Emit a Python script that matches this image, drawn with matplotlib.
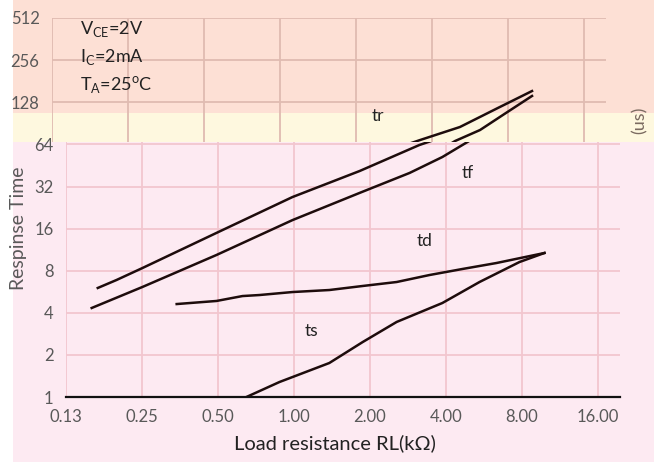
import numpy as np
import matplotlib
matplotlib.use("Agg")
import matplotlib.pyplot as plt
from matplotlib.patches import Rectangle

plt.rcParams['font.family'] = ['Lato', 'DejaVu Sans']
plt.rcParams['mathtext.fontset'] = 'custom'
plt.rcParams['mathtext.rm'] = 'Lato'

# curves (RL in kOhm, time in us)
tr_x = [0.167, 0.198, 0.251, 0.493, 0.986, 1.82, 3.14, 3.59, 5.16, 7.30, 9.96]
tr_y = [6.02, 6.86, 8.36, 14.9, 26.9, 41.3, 63.4, 68.8, 85.2, 116.6, 154]
tf_x = [0.158, 0.251, 0.493, 0.986, 1.82, 2.87, 3.87, 4.94, 6.20, 7.64, 9.96]
tf_y = [4.33, 6.12, 10.36, 18.4, 28.8, 40.0, 52.0, 67.7, 81.1, 103.9, 142]
td_x = [0.343, 0.493, 0.625, 0.730, 0.986, 1.38, 1.87, 2.55, 3.44, 4.65, 6.34, 9.82]
td_y = [4.62, 4.86, 5.27, 5.36, 5.63, 5.82, 6.22, 6.64, 7.45, 8.23, 9.08, 10.71]
ts_x = [0.648, 0.876, 1.38, 1.87, 2.55, 3.87, 5.43, 7.82, 9.82]
ts_y = [1.0, 1.28, 1.75, 2.47, 3.44, 4.70, 6.64, 9.23, 10.71]

xticks = [0.125, 0.25, 0.5, 1, 2, 4, 8, 16]
xticklabels = ['0.13', '0.25', '0.50', '1.00', '2.00', '4.00', '8.00', '16.00']
yticks_low = [1, 2, 4, 8, 16, 32, 64]
yticks_high = [128, 256, 512]

W, H = 654, 462
fig = plt.figure(figsize=(W/100, H/100), dpi=100)
fig.patch.set_facecolor('#fdeaf2')

def box(x0, y0, x1, y1):
    return [x0/W, 1 - y1/H, (x1 - x0)/W, (y1 - y0)/H]

# background bands (the picture is a patched-together scan)
for (x0, y0, x1, y1, c) in [(0, 0, 13, H, 'white'),
                            (13, 0, W, 113, '#fde0d5'),
                            (13, 113, W, 142, '#fef8df')]:
    b = box(x0, y0, x1, y1)
    fig.patches.append(Rectangle((b[0], b[1]), b[2], b[3], transform=fig.transFigure,
                                 facecolor=c, edgecolor='none', zorder=-5))

xmax = 0.125 * 2 ** (554 / 76)
ysplit = 2 ** (255 / 42.1)

# lower part and the upper strip, which sits a little to the left in the scan
ax = fig.add_axes(box(66, 142, 620, 397))
ax2 = fig.add_axes(box(52, 18, 606, 142))

for a, lim, yt, gc in [(ax, (1, ysplit), yticks_low, '#f2c6cf'),
                       (ax2, (ysplit, 512), yticks_high, '#e0bbb1')]:
    a.patch.set_alpha(0)
    a.set_xscale('log', base=2)
    a.set_yscale('log', base=2)
    a.set_xlim(0.125, xmax)
    a.set_ylim(*lim)
    a.set_xticks(xticks)
    a.set_yticks(yt)
    a.set_yticklabels([str(v) for v in yt])
    a.minorticks_off()
    a.grid(True, color=gc, linewidth=1.3)
    a.set_axisbelow(True)
    for s in a.spines.values():
        s.set_visible(False)
    a.tick_params(length=0, pad=9, labelsize=12, colors='#595959')
    for xs, ys in [(tr_x, tr_y), (tf_x, tf_y), (td_x, td_y), (ts_x, ts_y)]:
        a.plot(xs, ys, color='#1e0c0c', linewidth=1.8)

ax.set_xticklabels(xticklabels)
ax.tick_params(axis='x', pad=9)
ax2.set_xticklabels([])
ax.spines['bottom'].set_visible(True)
ax.spines['bottom'].set_color('#111111')
ax.spines['bottom'].set_linewidth(1.6)

ax.text(4.87, 40, 'tf', fontsize=12.5, color='#222222', ha='center', va='center')
ax.text(3.29, 13.0, 'td', fontsize=12.5, color='#222222', ha='center', va='center')
ax.text(1.17, 2.96, 'ts', fontsize=12.5, color='#222222', ha='center', va='center')
ax2.text(2.44, 102, 'tr', fontsize=12.5, color='#222222', ha='center', va='center', clip_on=False)

for i, s in enumerate([r'V$_{\mathrm{CE}}$=2V', r'I$_{\mathrm{C}}$=2mA', r'T$_{\mathrm{A}}$=25$^{\mathrm{o}}$C']):
    fig.text(80/W, 1 - (29 + 28*i)/H, s, fontsize=13, color='#222222', ha='left', va='center')

fig.text(19/W, 1 - 290/H, 'Respinse Time', rotation=90, fontsize=14,
         color='#595959', ha='center', va='bottom')
fig.text(640/W, 1 - 120/H, '(us)', rotation=90, fontsize=13, color='#7a6a60',
         ha='center', va='center')
fig.text(335/W, 1 - 443/H, 'Load resistance RL(kΩ)', fontsize=14.5, color='#222222',
         ha='center', va='center')

fig.savefig('out.png', dpi=100, facecolor=fig.get_facecolor())
